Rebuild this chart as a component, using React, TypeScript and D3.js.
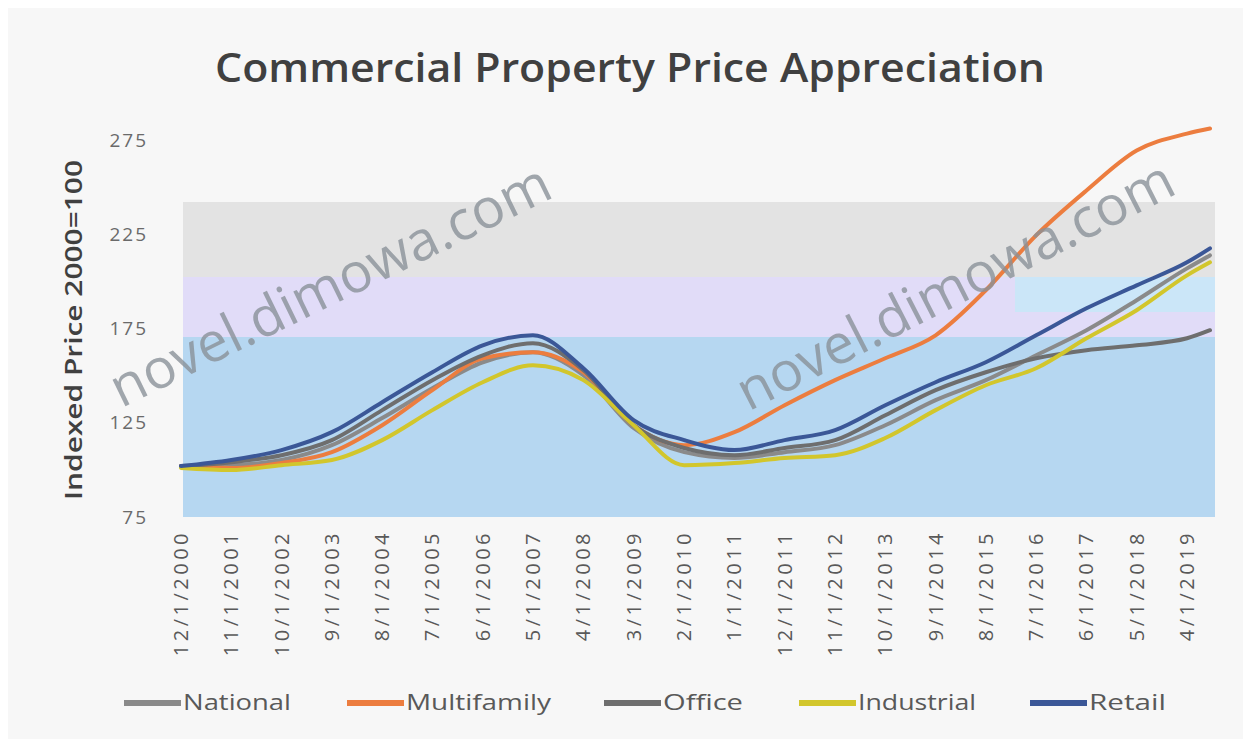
import React from "react";
import * as d3 from "d3";

const W = 1251, H = 747;

// x axis labels (every 11 months) and the dates the series are read at
const TICK_LABELS = [
  "12/1/2000", "11/1/2001", "10/1/2002", "9/1/2003", "8/1/2004", "7/1/2005", "6/1/2006",
  "5/1/2007", "4/1/2008", "3/1/2009", "2/1/2010", "1/1/2011", "12/1/2011", "11/1/2012",
  "10/1/2013", "9/1/2014", "8/1/2015", "7/1/2016", "6/1/2017", "5/1/2018", "4/1/2019",
];
const POINT_DATES = [...TICK_LABELS, "9/1/2019"];

const national = [102, 102.5, 105.2, 113.1, 127.5, 143.3, 157.1, 162.4, 150.2, 122.2, 109.4, 106.3, 109.4, 113.1, 123.7, 137.0, 147.6, 160.8, 174.1, 190.0, 206.9, 213.8];
const multifamily = [102, 101, 103.6, 109.4, 123.7, 142.3, 159.2, 162.4, 151.8, 123.7, 113.1, 120.0, 134.3, 147.6, 159.2, 171.4, 195.3, 224.4, 248.2, 269.4, 278.4, 281.1];
const office = [102, 104.1, 107.8, 115.8, 131.7, 147.6, 160.8, 167.2, 152.9, 123.7, 111.6, 107.8, 111.6, 115.8, 129.0, 142.3, 151.8, 159.2, 163.5, 166.1, 169.8, 174.1];
const industrial = [101, 99.9, 102.5, 105.2, 115.8, 131.7, 146.5, 155.5, 147.6, 123.7, 102.5, 103.6, 106.3, 107.8, 116.9, 131.7, 144.9, 153.9, 169.8, 184.7, 203.2, 210.1];
const retail = [102, 105.2, 110.5, 120.0, 135.9, 151.8, 166.1, 171.4, 153.9, 126.4, 115.8, 110.5, 115.8, 121.1, 134.3, 146.5, 157.1, 171.4, 185.7, 197.9, 210.1, 217.5];

const Y_TICKS = [75, 125, 175, 225, 275];

const SERIES = [
  { name: "National", color: "#8a8a8a", values: national },
  { name: "Multifamily", color: "#ec7d3f", values: multifamily },
  { name: "Office", color: "#6e6e6e", values: office },
  { name: "Industrial", color: "#d2c62c", values: industrial },
  { name: "Retail", color: "#3b5797", values: retail },
];

const parse = d3.timeParse("%m/%d/%Y");
const FONT = "'Open Sans', 'DejaVu Sans', sans-serif";

export default function App() {
  const x = d3.scaleTime()
    .domain([parse("12/1/2000")!, parse("4/1/2019")!])
    .range([181, 1187]);
  const y = d3.scaleLinear().domain([75, 275]).range([517, 140]);
  const line = d3.line<[Date, number]>()
    .x((d) => x(d[0]))
    .y((d) => y(d[1]))
    .curve(d3.curveMonotoneX);

  const legendTextX = [182, 405, 662, 857, 1088];
  const legendTextLen = [108, 145, 80, 118, 77];

  return (
    <svg width={W} height={H} style={{ position: "absolute", left: 0, top: 0 }} fontFamily={FONT}>
      <rect width={W} height={H} fill="#ffffff" />
      <rect x={8} y={8} width={W - 16} height={H - 16} fill="#f7f7f7" />

      {/* plot area tint */}
      <rect x={183} y={202} width={1032} height={75} fill="#e3e3e3" />
      <rect x={183} y={277} width={1032} height={60} fill="#e1dcf8" />
      <rect x={1015} y={277} width={200} height={35} fill="#cbe6f8" />
      <rect x={183} y={337} width={1032} height={180} fill="#b6d7f1" />

      <text x={215} y={82} fontSize={40} fontWeight={600} fill="#404040" textLength={830} lengthAdjust="spacingAndGlyphs">
        Commercial Property Price Appreciation
      </text>

      <text transform="translate(82,500) rotate(-90)" fontSize={23} fontWeight={600} fill="#404040" textLength={340} lengthAdjust="spacingAndGlyphs">
        Indexed Price 2000=100
      </text>

      {Y_TICKS.map((t) => (
        <text key={t} x={148} y={y(t)} dy="0.35em" textAnchor="end" fontSize={19} fill="#6a6a6a" letterSpacing={2}>{t}</text>
      ))}

      {TICK_LABELS.map((lab) => (
        <text key={lab} transform={`translate(${x(parse(lab)!)},530) rotate(-90)`} dy="0.35em" textAnchor="end" fontSize={20} fill="#595959" letterSpacing={3.5}>
          {lab}
        </text>
      ))}

      {SERIES.map((s) => (
        <path key={s.name}
          d={line(POINT_DATES.map((dt, i) => [parse(dt)!, s.values[i]] as [Date, number])) || ""}
          fill="none" stroke={s.color} strokeWidth={4} strokeLinecap="round" strokeLinejoin="round" />
      ))}

      {/* watermark */}
      <text transform="translate(330,285) rotate(-26)" textAnchor="middle" dy="0.35em" fontSize={55} fill="#8a9198" fillOpacity={0.8}>
        novel.dimowa.com
      </text>
      <text transform="translate(955,285) rotate(-27)" textAnchor="middle" dy="0.35em" fontSize={55} fill="#8a9198" fillOpacity={0.8}>
        novel.dimowa.com
      </text>

      {SERIES.map((s, i) => (
        <g key={s.name}>
          <line x1={legendTextX[i] - 58} x2={legendTextX[i] - 1} y1={703} y2={703} stroke={s.color} strokeWidth={6} />
          <text x={legendTextX[i] + 1} y={703} dy="0.35em" fontSize={21} fill="#595959" textLength={legendTextLen[i]} lengthAdjust="spacingAndGlyphs">{s.name}</text>
        </g>
      ))}
    </svg>
  );
}
